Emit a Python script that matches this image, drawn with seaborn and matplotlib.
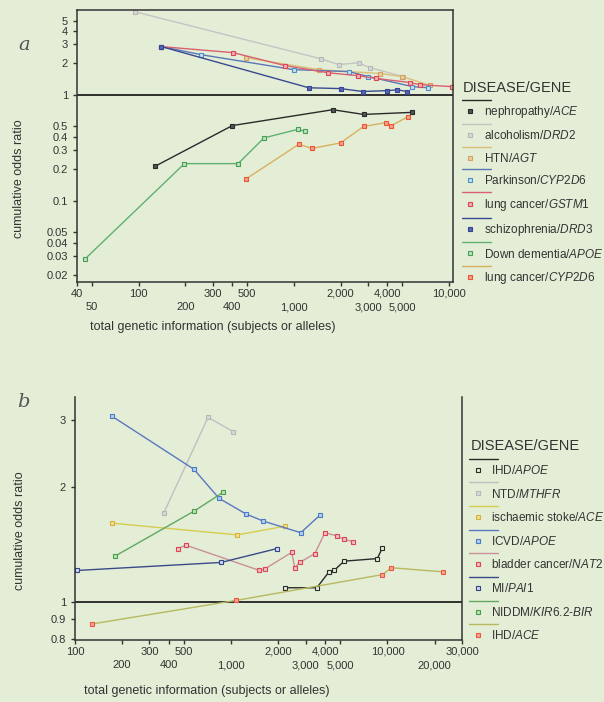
import matplotlib
matplotlib.use("Agg")
import matplotlib.pyplot as plt
import matplotlib.ticker as mticker
from matplotlib.lines import Line2D
from matplotlib.legend_handler import HandlerBase
import seaborn as sns
import pandas as pd

# ---------- panel a data ----------
a_names = ["nephropathy/$\\it{ACE}$", "alcoholism/$\\it{DRD2}$", "HTN/$\\it{AGT}$",
           "Parkinson/$\\it{CYP2D6}$", "lung cancer/$\\it{GSTM1}$", "schizophrenia/$\\it{DRD3}$",
           "Down dementia/$\\it{APOE}$", "lung cancer/$\\it{CYP2D6}$"]

neph_x = [127, 401, 1778, 2812, 5794]
neph_y = [0.21, 0.51, 0.72, 0.65, 0.68]
alco_x = [94, 1490, 1941, 2610, 3072, 5075]
alco_y = [6.07, 2.18, 1.92, 2.0, 1.8, 1.48]
htn_x = [492, 1446, 3610, 5000, 7550]
htn_y = [2.23, 1.72, 1.58, 1.48, 1.22]
park_x = [140, 253, 1000, 2255, 3020, 5800, 7330]
park_y = [2.84, 2.38, 1.72, 1.65, 1.48, 1.19, 1.16]
gstm_x = [140, 406, 875, 1652, 2570, 3404, 5620, 6518, 10400]
gstm_y = [2.84, 2.49, 1.88, 1.61, 1.51, 1.42, 1.30, 1.24, 1.19]
schz_x = [140, 1248, 2000, 2768, 4007, 4645, 5385]
schz_y = [2.84, 1.16, 1.14, 1.07, 1.09, 1.11, 1.07]
down_x = [45, 197, 437, 642, 1061, 1178]
down_y = [0.028, 0.223, 0.223, 0.39, 0.47, 0.45]
cyp_x = [492, 1077, 1303, 2000, 2810, 3945, 4248, 5457]
cyp_y = [0.16, 0.34, 0.31, 0.35, 0.50, 0.545, 0.51, 0.62]

# ---------- panel b data ----------
b_names = ["IHD/$\\it{APOE}$", "NTD/$\\it{MTHFR}$", "ischaemic stoke/$\\it{ACE}$",
           "ICVD/$\\it{APOE}$", "bladder cancer/$\\it{NAT2}$", "MI/$\\it{PAI1}$",
           "NIDDM/$\\it{KIR6.2}$-$\\it{BIR}$", "IHD/$\\it{ACE}$"]

ihd_apoe_x = [2197, 3530, 4225, 4550, 5280, 8610, 9290]
ihd_apoe_y = [1.09, 1.09, 1.20, 1.21, 1.28, 1.30, 1.39]
ntd_x = [370, 711, 1030]
ntd_y = [1.71, 3.05, 2.80]
stroke_x = [173, 1094, 2197]
stroke_y = [1.61, 1.50, 1.58]
icvd_x = [173, 577, 837, 1250, 1607, 2786, 3700]
icvd_y = [3.07, 2.23, 1.87, 1.70, 1.63, 1.52, 1.69]
blad_x = [455, 513, 1517, 1635, 2440, 2550, 2745, 3430, 3980, 4760, 5280, 6040]
blad_y = [1.38, 1.41, 1.21, 1.22, 1.35, 1.23, 1.27, 1.34, 1.52, 1.49, 1.46, 1.44]
mi_x = [103, 861, 1950]
mi_y = [1.21, 1.27, 1.38]
niddm_x = [181, 577, 888]
niddm_y = [1.32, 1.73, 1.94]
ihd_ace_x = [129, 1077, 9290, 10600, 22600]
ihd_ace_y = [0.876, 1.01, 1.18, 1.23, 1.20]

a_series = [(neph_x, neph_y), (alco_x, alco_y), (htn_x, htn_y), (park_x, park_y),
            (gstm_x, gstm_y), (schz_x, schz_y), (down_x, down_y), (cyp_x, cyp_y)]
b_series = [(ihd_apoe_x, ihd_apoe_y), (ntd_x, ntd_y), (stroke_x, stroke_y), (icvd_x, icvd_y),
            (blad_x, blad_y), (mi_x, mi_y), (niddm_x, niddm_y), (ihd_ace_x, ihd_ace_y)]

# (line colour, marker edge, marker face)
a_styles = [("#2a2a2a", "#2a2a2a", "#555555"),
            ("#c4c4c4", "#b8b8b8", "#d8d8d8"),
            ("#d8c078", "#d8a060", "#e8d0a0"),
            ("#5a78b8", "#4a90c8", "#c8e0ee"),
            ("#d86070", "#dd4455", "#f0b0b0"),
            ("#3a4a90", "#334499", "#5566aa"),
            ("#60b070", "#44a055", "#c0e0c0"),
            ("#d8b060", "#ee5533", "#f4a090")]
b_styles = [("#2a2a2a", "#2a2a2a", "#e4eed6"),
            ("#c0c0c0", "#b8b8b8", "#d8d8d8"),
            ("#d8cc50", "#d8b040", "#f0e090"),
            ("#5a78c0", "#4a7ac8", "#b8d0ee"),
            ("#c89098", "#dd4455", "#f4c0c0"),
            ("#3a4a88", "#334488", "#d0d8e8"),
            ("#60a860", "#44a050", "#c0e0b0"),
            ("#b8b860", "#ee5544", "#f4a890")]

BG = "#e4eed6"
TXT = "#333333"

sns.set_theme(style="ticks")
plt.rcParams["font.family"] = ["Liberation Sans", "DejaVu Sans"]
plt.rcParams["mathtext.fontset"] = "custom"
plt.rcParams["mathtext.it"] = "Liberation Sans:italic"
plt.rcParams["mathtext.rm"] = "Liberation Sans"


class SepHandler(HandlerBase):
    # marker for the entry plus a short rule above it in the series' line colour (SPSS style)
    def __init__(self, line_color, rise=8.0, rule_len=21.0):
        super().__init__()
        self.line_color = line_color
        self.rise = rise
        self.rule_len = rule_len

    def create_artists(self, legend, orig_handle, xdescent, ydescent, width, height,
                       fontsize, trans):
        cx = -xdescent + width / 2
        cy = -ydescent + height / 2
        mk = Line2D([cx], [cy], ls="none", marker="s", markersize=3.5,
                    markeredgecolor=orig_handle.get_markeredgecolor(),
                    markerfacecolor=orig_handle.get_markerfacecolor(),
                    markeredgewidth=0.8, transform=trans)
        x0 = -xdescent - 1
        rule = Line2D([x0, x0 + self.rule_len], [cy + self.rise] * 2,
                      color=self.line_color, lw=1.0, transform=trans)
        return [rule, mk]


fig = plt.figure(figsize=(6.04, 7.02), dpi=100, facecolor=BG)
ax_a = fig.add_axes([0.1275, 0.5983, 0.6225, 0.3875])
ax_b = fig.add_axes([0.124, 0.0883, 0.641, 0.3462])


def draw_panel(ax, series, styles, names):
    ax.set_facecolor(BG)
    ax.axhline(1, color="#222222", lw=1.3, zorder=1)
    handles = []
    for (xs, ys), (lc, mec, mfc), name in zip(series, styles, names):
        df = pd.DataFrame({"x": xs, "y": ys})
        sns.lineplot(data=df, x="x", y="y", ax=ax, sort=False, estimator=None,
                     color=lc, lw=1.0, marker="s", markersize=3.5,
                     markeredgecolor=mec, markerfacecolor=mfc, markeredgewidth=0.8)
        handles.append(Line2D([], [], ls="none", marker="s", markersize=3.5,
                              markeredgecolor=mec, markerfacecolor=mfc,
                              markeredgewidth=0.8, label=name))
    ax.set_xscale("log")
    ax.set_yscale("log")
    for s in ax.spines.values():
        s.set_color("#333333")
        s.set_linewidth(1.1)
    ax.tick_params(which="both", direction="out", length=3, width=1,
                   colors="#333333", labelsize=8, labelcolor=TXT)
    ax.set_ylabel("cumulative odds ratio", fontsize=9, color=TXT)
    ax.set_xlabel("total genetic information (subjects or alleles)", fontsize=9, color=TXT)
    return handles


def set_log_ticks(ax, xmajor, xminor, yticks, ylabels):
    fmt = lambda v: f"{v:,.0f}"
    ax.xaxis.set_major_locator(mticker.FixedLocator(xmajor))
    ax.xaxis.set_major_formatter(mticker.FixedFormatter([fmt(v) for v in xmajor]))
    ax.xaxis.set_minor_locator(mticker.FixedLocator(xminor))
    ax.xaxis.set_minor_formatter(mticker.FixedFormatter([fmt(v) for v in xminor]))
    ax.tick_params(axis="x", which="major", pad=2)
    ax.tick_params(axis="x", which="minor", pad=11.5)
    ax.yaxis.set_major_locator(mticker.FixedLocator(yticks))
    ax.yaxis.set_major_formatter(mticker.FixedFormatter(ylabels))
    ax.yaxis.set_minor_locator(mticker.NullLocator())


def style_legend(ax, handles, styles, anchor, spacing):
    hmap = {h: SepHandler(st[0]) for h, st in zip(handles, styles)}
    leg = ax.legend(handles=handles, loc="upper left", bbox_to_anchor=anchor,
                    title="DISEASE/GENE", frameon=False, fontsize=8.5, title_fontsize=10.5,
                    handlelength=1.25, handletextpad=0.5, labelspacing=spacing,
                    alignment="left", borderaxespad=0, handler_map=hmap)
    for t in leg.get_texts():
        t.set_color(TXT)
    leg.get_title().set_color(TXT)
    return leg


# panel a
h_a = draw_panel(ax_a, a_series, a_styles, a_names)
ax_a.set_xlim(40, 10600)
ax_a.set_ylim(0.017, 6.3)
a_yt = [0.02, 0.03, 0.04, 0.05, 0.1, 0.2, 0.3, 0.4, 0.5, 1, 2, 3, 4, 5]
set_log_ticks(ax_a, [40, 100, 300, 500, 2000, 4000, 10000], [50, 200, 400, 1000, 3000, 5000],
              a_yt, [f"{v:g}" for v in a_yt])
ax_a.xaxis.set_label_coords(0.36, -0.144)
ax_a.yaxis.set_label_coords(-0.139, 0.38)
ax_a.text(-0.14, 0.87, "a", transform=ax_a.transAxes, fontsize=14, style="italic",
          family="DejaVu Serif", color="#555555", ha="center", va="center")
style_legend(ax_a, h_a, a_styles, (1.014, 0.758), 0.8)

# panel b
h_b = draw_panel(ax_b, b_series, b_styles, b_names)
ax_b.set_xlim(100, 30000)
ax_b.set_ylim(0.795, 3.45)
b_yt = [0.8, 0.9, 1, 2, 3]
set_log_ticks(ax_b, [100, 300, 500, 2000, 4000, 10000, 30000],
              [200, 400, 1000, 3000, 5000, 20000], b_yt, [f"{v:g}" for v in b_yt])
ax_b.spines["top"].set_visible(False)
ax_b.xaxis.set_label_coords(0.34, -0.186)
ax_b.yaxis.set_label_coords(-0.127, 0.45)
ax_b.text(-0.134, 0.98, "b", transform=ax_b.transAxes, fontsize=14, style="italic",
          family="DejaVu Serif", color="#555555", ha="center", va="center")
style_legend(ax_b, h_b, b_styles, (1.01, 0.845), 0.9)

fig.savefig("out.png", dpi=100, facecolor=BG)
